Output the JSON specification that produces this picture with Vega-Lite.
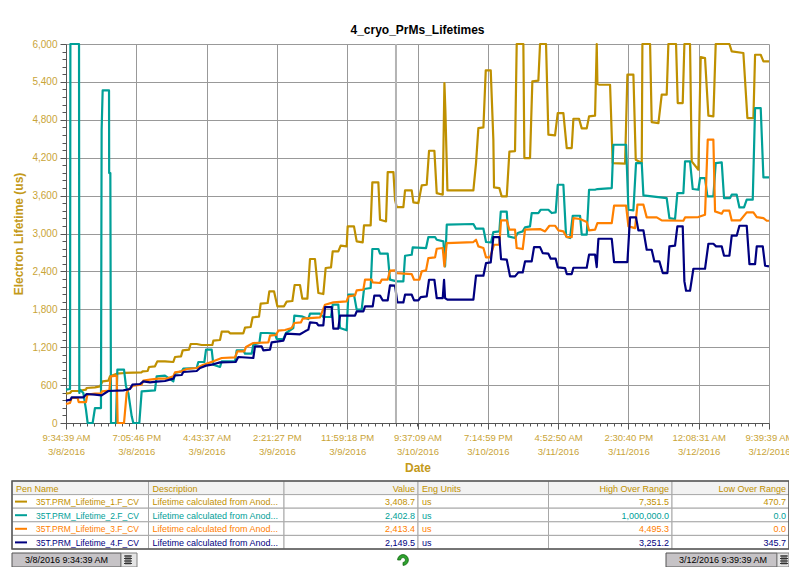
{"$schema":"https://vega.github.io/schema/vega-lite/v6.json","padding":{"left":11,"top":24,"right":0,"bottom":0},"background":"white","spacing":1,"config":{"font":"Liberation Sans","view":{"stroke":null}},
"datasets":{"traces":[
{"pen":"1","h":0,"v":464},{"pen":"1","h":0.55,"v":475},{"pen":"1","h":0.77,"v":507},{"pen":"1","h":1.69,"v":507},{"pen":"1","h":2.73,"v":528},{"pen":"1","h":2.82,"v":554},{"pen":"1","h":3.96,"v":565},{"pen":"1","h":4.65,"v":580},{"pen":"1","h":5.01,"v":660},{"pen":"1","h":5.79,"v":670},{"pen":"1","h":6.01,"v":739},{"pen":"1","h":6.93,"v":781},{"pen":"1","h":8.06,"v":792},{"pen":"1","h":10.34,"v":802},{"pen":"1","h":10.48,"v":818},{"pen":"1","h":11.16,"v":823},{"pen":"1","h":11.34,"v":887},{"pen":"1","h":12.16,"v":897},{"pen":"1","h":12.48,"v":976},{"pen":"1","h":13.53,"v":976},{"pen":"1","h":14.67,"v":966},{"pen":"1","h":14.9,"v":1045},{"pen":"1","h":15.72,"v":1055},{"pen":"1","h":15.95,"v":1150},{"pen":"1","h":16.81,"v":1161},{"pen":"1","h":17.04,"v":1251},{"pen":"1","h":17.86,"v":1251},{"pen":"1","h":18.54,"v":1235},{"pen":"1","h":20,"v":1235},{"pen":"1","h":20.14,"v":1303},{"pen":"1","h":21.05,"v":1314},{"pen":"1","h":21.28,"v":1446},{"pen":"1","h":22.19,"v":1446},{"pen":"1","h":22.42,"v":1420},{"pen":"1","h":24.24,"v":1420},{"pen":"1","h":24.47,"v":1509},{"pen":"1","h":25.24,"v":1520},{"pen":"1","h":25.51,"v":1673},{"pen":"1","h":26.38,"v":1683},{"pen":"1","h":26.61,"v":1889},{"pen":"1","h":27.56,"v":1900},{"pen":"1","h":27.79,"v":2084},{"pen":"1","h":28.43,"v":2084},{"pen":"1","h":28.89,"v":1847},{"pen":"1","h":29.8,"v":1847},{"pen":"1","h":30.16,"v":1921},{"pen":"1","h":30.94,"v":1931},{"pen":"1","h":31.25,"v":2185},{"pen":"1","h":31.98,"v":2185},{"pen":"1","h":32.3,"v":1968},{"pen":"1","h":32.99,"v":1968},{"pen":"1","h":33.35,"v":2596},{"pen":"1","h":34.03,"v":2596},{"pen":"1","h":34.49,"v":2058},{"pen":"1","h":35.17,"v":2042},{"pen":"1","h":35.49,"v":2454},{"pen":"1","h":36.22,"v":2464},{"pen":"1","h":36.45,"v":2718},{"pen":"1","h":37.22,"v":2718},{"pen":"1","h":37.54,"v":2807},{"pen":"1","h":38.36,"v":2796},{"pen":"1","h":38.5,"v":3112},{"pen":"1","h":39.36,"v":3112},{"pen":"1","h":39.73,"v":2875},{"pen":"1","h":40.55,"v":2859},{"pen":"1","h":40.73,"v":3128},{"pen":"1","h":41.64,"v":3128},{"pen":"1","h":41.87,"v":3809},{"pen":"1","h":42.69,"v":3809},{"pen":"1","h":42.92,"v":3218},{"pen":"1","h":43.74,"v":3191},{"pen":"1","h":43.97,"v":3972},{"pen":"1","h":44.75,"v":3973},{"pen":"1","h":44.97,"v":3535},{"pen":"1","h":45.2,"v":3419},{"pen":"1","h":46.11,"v":3419},{"pen":"1","h":46.34,"v":3683},{"pen":"1","h":47.25,"v":3683},{"pen":"1","h":47.48,"v":3492},{"pen":"1","h":48.16,"v":3482},{"pen":"1","h":48.62,"v":3762},{"pen":"1","h":49.3,"v":3772},{"pen":"1","h":49.62,"v":4310},{"pen":"1","h":50.35,"v":4310},{"pen":"1","h":50.67,"v":3640},{"pen":"1","h":51.49,"v":3614},{"pen":"1","h":51.72,"v":5382},{"pen":"1","h":51.85,"v":4960},{"pen":"1","h":52.13,"v":3683},{"pen":"1","h":55.68,"v":3683},{"pen":"1","h":56.04,"v":4115},{"pen":"1","h":56.36,"v":4669},{"pen":"1","h":57.05,"v":4680},{"pen":"1","h":57.37,"v":5582},{"pen":"1","h":58.05,"v":5582},{"pen":"1","h":58.41,"v":4485},{"pen":"1","h":58.5,"v":3730},{"pen":"1","h":59.23,"v":3719},{"pen":"1","h":59.55,"v":3587},{"pen":"1","h":60.24,"v":3587},{"pen":"1","h":60.6,"v":4295},{"pen":"1","h":61.37,"v":4305},{"pen":"1","h":61.6,"v":6000},{"pen":"1","h":62.51,"v":6000},{"pen":"1","h":62.65,"v":4194},{"pen":"1","h":63.42,"v":4194},{"pen":"1","h":63.74,"v":5408},{"pen":"1","h":64.56,"v":5419},{"pen":"1","h":64.79,"v":6000},{"pen":"1","h":65.61,"v":6000},{"pen":"1","h":65.93,"v":4564},{"pen":"1","h":66.84,"v":4553},{"pen":"1","h":67.21,"v":4907},{"pen":"1","h":67.98,"v":4907},{"pen":"1","h":68.44,"v":4353},{"pen":"1","h":69.12,"v":4353},{"pen":"1","h":69.35,"v":4817},{"pen":"1","h":70.12,"v":4817},{"pen":"1","h":70.49,"v":4664},{"pen":"1","h":71.17,"v":4664},{"pen":"1","h":71.49,"v":4854},{"pen":"1","h":72.31,"v":4865},{"pen":"1","h":72.54,"v":6000},{"pen":"1","h":72.63,"v":5366},{"pen":"1","h":72.9,"v":5355},{"pen":"1","h":74.36,"v":5355},{"pen":"1","h":74.72,"v":4115},{"pen":"1","h":76.41,"v":4105},{"pen":"1","h":76.73,"v":5514},{"pen":"1","h":77.55,"v":5514},{"pen":"1","h":77.87,"v":4168},{"pen":"1","h":78.69,"v":4115},{"pen":"1","h":78.78,"v":6000},{"pen":"1","h":79.83,"v":6000},{"pen":"1","h":80.05,"v":4764},{"pen":"1","h":80.97,"v":4748},{"pen":"1","h":81.42,"v":5197},{"pen":"1","h":82.1,"v":5197},{"pen":"1","h":82.33,"v":6000},{"pen":"1","h":83.38,"v":6000},{"pen":"1","h":83.61,"v":5065},{"pen":"1","h":84.29,"v":5065},{"pen":"1","h":84.52,"v":6000},{"pen":"1","h":85.29,"v":6000},{"pen":"1","h":85.52,"v":4142},{"pen":"1","h":86.43,"v":4010},{"pen":"1","h":86.75,"v":5793},{"pen":"1","h":87.34,"v":5777},{"pen":"1","h":87.8,"v":4865},{"pen":"1","h":88.48,"v":4854},{"pen":"1","h":88.8,"v":6000},{"pen":"1","h":90.67,"v":6000},{"pen":"1","h":90.99,"v":5883},{"pen":"1","h":92.58,"v":5857},{"pen":"1","h":93.13,"v":4828},{"pen":"1","h":93.95,"v":4828},{"pen":"1","h":94.18,"v":5830},{"pen":"1","h":94.95,"v":5830},{"pen":"1","h":95.32,"v":5725},{"pen":"1","h":96.08,"v":5725},
{"pen":"2","h":0,"v":528},{"pen":"2","h":0.55,"v":538},{"pen":"2","h":0.6,"v":6000},{"pen":"2","h":1.78,"v":6000},{"pen":"2","h":1.82,"v":475},{"pen":"2","h":1.91,"v":528},{"pen":"2","h":2.37,"v":475},{"pen":"2","h":2.73,"v":211},{"pen":"2","h":2.96,"v":0},{"pen":"2","h":3.64,"v":0},{"pen":"2","h":3.96,"v":237},{"pen":"2","h":4.78,"v":237},{"pen":"2","h":4.87,"v":4643},{"pen":"2","h":5.01,"v":5265},{"pen":"2","h":5.88,"v":5265},{"pen":"2","h":5.9,"v":3957},{"pen":"2","h":6.06,"v":3957},{"pen":"2","h":6.15,"v":0},{"pen":"2","h":6.83,"v":0},{"pen":"2","h":7.02,"v":844},{"pen":"2","h":7.93,"v":844},{"pen":"2","h":8.2,"v":580},{"pen":"2","h":8.52,"v":475},{"pen":"2","h":8.98,"v":106},{"pen":"2","h":9.2,"v":0},{"pen":"2","h":10.02,"v":0},{"pen":"2","h":10.34,"v":501},{"pen":"2","h":12.16,"v":517},{"pen":"2","h":12.39,"v":739},{"pen":"2","h":13.53,"v":749},{"pen":"2","h":14.67,"v":660},{"pen":"2","h":14.9,"v":792},{"pen":"2","h":15.81,"v":818},{"pen":"2","h":16.04,"v":860},{"pen":"2","h":17.86,"v":871},{"pen":"2","h":18.09,"v":966},{"pen":"2","h":18.91,"v":966},{"pen":"2","h":19.14,"v":1161},{"pen":"2","h":19.91,"v":1161},{"pen":"2","h":20.14,"v":923},{"pen":"2","h":21.05,"v":887},{"pen":"2","h":21.28,"v":976},{"pen":"2","h":23.1,"v":976},{"pen":"2","h":23.33,"v":1150},{"pen":"2","h":24.24,"v":1150},{"pen":"2","h":24.47,"v":1098},{"pen":"2","h":25.38,"v":1098},{"pen":"2","h":25.6,"v":1240},{"pen":"2","h":26.43,"v":1266},{"pen":"2","h":26.61,"v":1425},{"pen":"2","h":27.56,"v":1425},{"pen":"2","h":28.57,"v":1414},{"pen":"2","h":28.79,"v":1330},{"pen":"2","h":29.71,"v":1330},{"pen":"2","h":30.07,"v":1425},{"pen":"2","h":31.07,"v":1504},{"pen":"2","h":31.21,"v":1699},{"pen":"2","h":32.21,"v":1689},{"pen":"2","h":33.12,"v":1646},{"pen":"2","h":33.35,"v":1731},{"pen":"2","h":34.72,"v":1731},{"pen":"2","h":35.17,"v":1678},{"pen":"2","h":36.22,"v":1678},{"pen":"2","h":36.45,"v":1873},{"pen":"2","h":37.22,"v":1873},{"pen":"2","h":37.45,"v":1504},{"pen":"2","h":38.36,"v":1467},{"pen":"2","h":38.59,"v":2032},{"pen":"2","h":39.36,"v":2032},{"pen":"2","h":39.73,"v":1794},{"pen":"2","h":40.41,"v":1794},{"pen":"2","h":40.73,"v":2121},{"pen":"2","h":41.64,"v":2137},{"pen":"2","h":41.87,"v":2755},{"pen":"2","h":42.69,"v":2755},{"pen":"2","h":42.92,"v":2681},{"pen":"2","h":43.97,"v":2681},{"pen":"2","h":44.28,"v":2269},{"pen":"2","h":45.2,"v":2242},{"pen":"2","h":46.11,"v":2242},{"pen":"2","h":46.34,"v":2648},{"pen":"2","h":47.25,"v":2664},{"pen":"2","h":47.39,"v":2780},{"pen":"2","h":49.21,"v":2770},{"pen":"2","h":49.53,"v":2944},{"pen":"2","h":50.44,"v":2944},{"pen":"2","h":50.67,"v":2901},{"pen":"2","h":51.58,"v":2875},{"pen":"2","h":51.81,"v":2479},{"pen":"2","h":52.04,"v":3139},{"pen":"2","h":55.68,"v":3150},{"pen":"2","h":56.04,"v":3076},{"pen":"2","h":57.05,"v":3076},{"pen":"2","h":57.41,"v":2865},{"pen":"2","h":58.09,"v":2859},{"pen":"2","h":58.41,"v":3023},{"pen":"2","h":59.23,"v":3033},{"pen":"2","h":59.42,"v":3345},{"pen":"2","h":60.24,"v":3345},{"pen":"2","h":60.46,"v":2954},{"pen":"2","h":61.37,"v":2928},{"pen":"2","h":61.74,"v":3007},{"pen":"2","h":62.42,"v":3033},{"pen":"2","h":62.74,"v":3097},{"pen":"2","h":63.42,"v":3113},{"pen":"2","h":63.65,"v":3324},{"pen":"2","h":64.56,"v":3324},{"pen":"2","h":64.88,"v":3376},{"pen":"2","h":65.93,"v":3376},{"pen":"2","h":66.39,"v":3324},{"pen":"2","h":66.93,"v":3334},{"pen":"2","h":67.21,"v":3772},{"pen":"2","h":67.98,"v":3772},{"pen":"2","h":68.35,"v":2954},{"pen":"2","h":68.89,"v":2928},{"pen":"2","h":69.26,"v":3281},{"pen":"2","h":70.26,"v":3281},{"pen":"2","h":70.49,"v":2981},{"pen":"2","h":71.17,"v":2981},{"pen":"2","h":71.49,"v":3693},{"pen":"2","h":72.31,"v":3693},{"pen":"2","h":72.63,"v":3704},{"pen":"2","h":74.59,"v":3719},{"pen":"2","h":74.81,"v":4405},{"pen":"2","h":76.55,"v":4405},{"pen":"2","h":76.87,"v":3376},{"pen":"2","h":77.55,"v":3366},{"pen":"2","h":77.91,"v":4115},{"pen":"2","h":78.69,"v":4115},{"pen":"2","h":78.92,"v":3603},{"pen":"2","h":82.1,"v":3561},{"pen":"2","h":82.47,"v":3244},{"pen":"2","h":83.24,"v":3229},{"pen":"2","h":83.56,"v":3640},{"pen":"2","h":84.38,"v":3640},{"pen":"2","h":84.61,"v":4142},{"pen":"2","h":85.29,"v":4142},{"pen":"2","h":85.66,"v":3704},{"pen":"2","h":86.43,"v":3693},{"pen":"2","h":86.66,"v":3878},{"pen":"2","h":87.34,"v":3878},{"pen":"2","h":87.66,"v":3587},{"pen":"2","h":88.48,"v":3587},{"pen":"2","h":88.8,"v":4115},{"pen":"2","h":89.62,"v":4126},{"pen":"2","h":89.94,"v":3561},{"pen":"2","h":90.76,"v":3561},{"pen":"2","h":90.99,"v":3614},{"pen":"2","h":91.67,"v":3614},{"pen":"2","h":92.04,"v":3413},{"pen":"2","h":92.67,"v":3413},{"pen":"2","h":93.04,"v":3535},{"pen":"2","h":93.86,"v":3535},{"pen":"2","h":94.18,"v":4986},{"pen":"2","h":94.95,"v":4986},{"pen":"2","h":95.32,"v":3888},{"pen":"2","h":96.08,"v":3888},
{"pen":"3","h":0,"v":301},{"pen":"3","h":0.55,"v":317},{"pen":"3","h":0.77,"v":396},{"pen":"3","h":1.59,"v":396},{"pen":"3","h":1.73,"v":332},{"pen":"3","h":2.73,"v":332},{"pen":"3","h":2.92,"v":449},{"pen":"3","h":3.96,"v":464},{"pen":"3","h":4.78,"v":464},{"pen":"3","h":4.92,"v":501},{"pen":"3","h":5.92,"v":512},{"pen":"3","h":6.11,"v":739},{"pen":"3","h":6.93,"v":749},{"pen":"3","h":7.06,"v":0},{"pen":"3","h":7.93,"v":0},{"pen":"3","h":8.29,"v":475},{"pen":"3","h":8.52,"v":528},{"pen":"3","h":9.2,"v":591},{"pen":"3","h":10.34,"v":607},{"pen":"3","h":10.57,"v":670},{"pen":"3","h":11.48,"v":686},{"pen":"3","h":12.62,"v":702},{"pen":"3","h":13.76,"v":702},{"pen":"3","h":14.67,"v":739},{"pen":"3","h":14.9,"v":802},{"pen":"3","h":15.81,"v":818},{"pen":"3","h":16.49,"v":855},{"pen":"3","h":17.86,"v":871},{"pen":"3","h":18.77,"v":923},{"pen":"3","h":20.14,"v":976},{"pen":"3","h":21.28,"v":1029},{"pen":"3","h":23.1,"v":1040},{"pen":"3","h":23.42,"v":1135},{"pen":"3","h":24.37,"v":1135},{"pen":"3","h":24.6,"v":1203},{"pen":"3","h":25.6,"v":1266},{"pen":"3","h":27.66,"v":1277},{"pen":"3","h":27.88,"v":1383},{"pen":"3","h":28.7,"v":1393},{"pen":"3","h":29.02,"v":1462},{"pen":"3","h":29.93,"v":1472},{"pen":"3","h":30.84,"v":1504},{"pen":"3","h":31.21,"v":1583},{"pen":"3","h":32.12,"v":1594},{"pen":"3","h":32.35,"v":1652},{"pen":"3","h":34.72,"v":1673},{"pen":"3","h":35.4,"v":1873},{"pen":"3","h":36.54,"v":1910},{"pen":"3","h":38.36,"v":1926},{"pen":"3","h":38.59,"v":2005},{"pen":"3","h":39.5,"v":2021},{"pen":"3","h":39.73,"v":2100},{"pen":"3","h":40.64,"v":2111},{"pen":"3","h":40.87,"v":2269},{"pen":"3","h":41.78,"v":2269},{"pen":"3","h":41.92,"v":2227},{"pen":"3","h":42.92,"v":2216},{"pen":"3","h":43.15,"v":2269},{"pen":"3","h":43.97,"v":2269},{"pen":"3","h":44.28,"v":2412},{"pen":"3","h":44.97,"v":2417},{"pen":"3","h":45.2,"v":2374},{"pen":"3","h":47.25,"v":2358},{"pen":"3","h":47.57,"v":2268},{"pen":"3","h":48.3,"v":2268},{"pen":"3","h":48.62,"v":2400},{"pen":"3","h":49.21,"v":2416},{"pen":"3","h":49.53,"v":2611},{"pen":"3","h":50.44,"v":2622},{"pen":"3","h":50.67,"v":2759},{"pen":"3","h":51.49,"v":2770},{"pen":"3","h":51.72,"v":2479},{"pen":"3","h":52.04,"v":2849},{"pen":"3","h":55.68,"v":2865},{"pen":"3","h":56.04,"v":2901},{"pen":"3","h":56.36,"v":2796},{"pen":"3","h":57.05,"v":2770},{"pen":"3","h":57.41,"v":2622},{"pen":"3","h":57.96,"v":2622},{"pen":"3","h":58.5,"v":2822},{"pen":"3","h":59.23,"v":2822},{"pen":"3","h":59.46,"v":3207},{"pen":"3","h":60.24,"v":3207},{"pen":"3","h":60.6,"v":3060},{"pen":"3","h":61.37,"v":3060},{"pen":"3","h":61.6,"v":2770},{"pen":"3","h":62.42,"v":2754},{"pen":"3","h":62.74,"v":3060},{"pen":"3","h":64.79,"v":3070},{"pen":"3","h":65.48,"v":3033},{"pen":"3","h":66.07,"v":3123},{"pen":"3","h":66.84,"v":3123},{"pen":"3","h":67.3,"v":3049},{"pen":"3","h":67.98,"v":3033},{"pen":"3","h":68.44,"v":2944},{"pen":"3","h":69.12,"v":2944},{"pen":"3","h":69.35,"v":3244},{"pen":"3","h":70.26,"v":3229},{"pen":"3","h":71.17,"v":3181},{"pen":"3","h":71.49,"v":3049},{"pen":"3","h":72.31,"v":3060},{"pen":"3","h":72.63,"v":3165},{"pen":"3","h":74.59,"v":3165},{"pen":"3","h":74.91,"v":3440},{"pen":"3","h":76.55,"v":3440},{"pen":"3","h":76.87,"v":3113},{"pen":"3","h":77.78,"v":3086},{"pen":"3","h":78.1,"v":3456},{"pen":"3","h":78.92,"v":3456},{"pen":"3","h":79.37,"v":3255},{"pen":"3","h":80.74,"v":3255},{"pen":"3","h":81.42,"v":3207},{"pen":"3","h":84.38,"v":3202},{"pen":"3","h":84.61,"v":3255},{"pen":"3","h":86.43,"v":3260},{"pen":"3","h":87.34,"v":3297},{"pen":"3","h":87.71,"v":4485},{"pen":"3","h":88.48,"v":4485},{"pen":"3","h":88.71,"v":3350},{"pen":"3","h":89.62,"v":3313},{"pen":"3","h":89.85,"v":3361},{"pen":"3","h":90.67,"v":3361},{"pen":"3","h":90.99,"v":3207},{"pen":"3","h":92.13,"v":3207},{"pen":"3","h":93.04,"v":3334},{"pen":"3","h":93.95,"v":3334},{"pen":"3","h":94.41,"v":3260},{"pen":"3","h":95.32,"v":3244},{"pen":"3","h":95.77,"v":3202},{"pen":"3","h":96.08,"v":3202},
{"pen":"4","h":0,"v":354},{"pen":"4","h":0.64,"v":369},{"pen":"4","h":0.77,"v":406},{"pen":"4","h":2.37,"v":406},{"pen":"4","h":2.82,"v":459},{"pen":"4","h":3.96,"v":449},{"pen":"4","h":4.87,"v":438},{"pen":"4","h":5.79,"v":507},{"pen":"4","h":7.84,"v":517},{"pen":"4","h":8.75,"v":538},{"pen":"4","h":9.07,"v":607},{"pen":"4","h":10.11,"v":617},{"pen":"4","h":10.57,"v":660},{"pen":"4","h":11.48,"v":644},{"pen":"4","h":12.39,"v":654},{"pen":"4","h":13.53,"v":665},{"pen":"4","h":14.67,"v":702},{"pen":"4","h":14.9,"v":755},{"pen":"4","h":15.81,"v":760},{"pen":"4","h":16.04,"v":807},{"pen":"4","h":17.86,"v":823},{"pen":"4","h":18.32,"v":871},{"pen":"4","h":19.14,"v":908},{"pen":"4","h":20.14,"v":929},{"pen":"4","h":21.05,"v":960},{"pen":"4","h":23.19,"v":966},{"pen":"4","h":23.55,"v":1045},{"pen":"4","h":25.6,"v":1029},{"pen":"4","h":25.83,"v":1214},{"pen":"4","h":26.74,"v":1214},{"pen":"4","h":26.97,"v":1150},{"pen":"4","h":27.88,"v":1161},{"pen":"4","h":28.11,"v":1277},{"pen":"4","h":29.71,"v":1303},{"pen":"4","h":30.07,"v":1414},{"pen":"4","h":31.98,"v":1404},{"pen":"4","h":32.67,"v":1451},{"pen":"4","h":33.12,"v":1478},{"pen":"4","h":33.35,"v":1594},{"pen":"4","h":34.26,"v":1583},{"pen":"4","h":34.49,"v":1546},{"pen":"4","h":35.17,"v":1546},{"pen":"4","h":35.4,"v":1836},{"pen":"4","h":36.31,"v":1836},{"pen":"4","h":36.54,"v":1493},{"pen":"4","h":37.22,"v":1493},{"pen":"4","h":37.45,"v":1699},{"pen":"4","h":39.5,"v":1699},{"pen":"4","h":39.73,"v":1768},{"pen":"4","h":40.64,"v":1768},{"pen":"4","h":40.87,"v":1847},{"pen":"4","h":41.92,"v":1847},{"pen":"4","h":42.14,"v":2016},{"pen":"4","h":42.92,"v":2016},{"pen":"4","h":43.28,"v":1942},{"pen":"4","h":43.97,"v":1942},{"pen":"4","h":44.28,"v":2179},{"pen":"4","h":44.97,"v":2175},{"pen":"4","h":45.29,"v":1909},{"pen":"4","h":46.11,"v":1909},{"pen":"4","h":46.34,"v":2031},{"pen":"4","h":47.25,"v":2031},{"pen":"4","h":47.57,"v":1941},{"pen":"4","h":48.16,"v":1941},{"pen":"4","h":48.48,"v":1994},{"pen":"4","h":49.3,"v":2004},{"pen":"4","h":49.62,"v":2268},{"pen":"4","h":50.35,"v":2268},{"pen":"4","h":50.67,"v":1978},{"pen":"4","h":51.49,"v":1978},{"pen":"4","h":51.67,"v":2268},{"pen":"4","h":51.81,"v":1978},{"pen":"4","h":52.13,"v":1952},{"pen":"4","h":55.68,"v":1952},{"pen":"4","h":56.04,"v":2332},{"pen":"4","h":57.05,"v":2332},{"pen":"4","h":57.41,"v":2532},{"pen":"4","h":58.05,"v":2543},{"pen":"4","h":58.41,"v":2944},{"pen":"4","h":59.23,"v":2944},{"pen":"4","h":59.46,"v":2595},{"pen":"4","h":60.24,"v":2585},{"pen":"4","h":60.69,"v":2321},{"pen":"4","h":61.37,"v":2321},{"pen":"4","h":61.83,"v":2384},{"pen":"4","h":62.42,"v":2384},{"pen":"4","h":62.74,"v":2558},{"pen":"4","h":63.65,"v":2558},{"pen":"4","h":63.97,"v":2785},{"pen":"4","h":64.79,"v":2785},{"pen":"4","h":65.16,"v":2690},{"pen":"4","h":65.93,"v":2680},{"pen":"4","h":66.25,"v":2601},{"pen":"4","h":66.93,"v":2601},{"pen":"4","h":67.21,"v":2463},{"pen":"4","h":68.21,"v":2453},{"pen":"4","h":68.44,"v":2358},{"pen":"4","h":69.12,"v":2358},{"pen":"4","h":69.35,"v":2458},{"pen":"4","h":71.17,"v":2458},{"pen":"4","h":71.49,"v":2664},{"pen":"4","h":72.31,"v":2664},{"pen":"4","h":72.54,"v":2469},{"pen":"4","h":72.63,"v":2664},{"pen":"4","h":72.77,"v":2917},{"pen":"4","h":74.59,"v":2917},{"pen":"4","h":74.91,"v":2548},{"pen":"4","h":76.73,"v":2548},{"pen":"4","h":77.09,"v":3255},{"pen":"4","h":77.91,"v":3255},{"pen":"4","h":78.23,"v":3049},{"pen":"4","h":78.92,"v":3049},{"pen":"4","h":79.37,"v":2743},{"pen":"4","h":80.05,"v":2743},{"pen":"4","h":80.42,"v":2558},{"pen":"4","h":81.1,"v":2558},{"pen":"4","h":81.56,"v":2374},{"pen":"4","h":82.2,"v":2374},{"pen":"4","h":82.47,"v":2796},{"pen":"4","h":83.24,"v":2807},{"pen":"4","h":83.56,"v":3113},{"pen":"4","h":84.29,"v":3113},{"pen":"4","h":84.52,"v":2242},{"pen":"4","h":84.75,"v":2094},{"pen":"4","h":85.29,"v":2094},{"pen":"4","h":85.75,"v":2442},{"pen":"4","h":87.34,"v":2442},{"pen":"4","h":87.8,"v":2838},{"pen":"4","h":88.48,"v":2838},{"pen":"4","h":88.85,"v":2796},{"pen":"4","h":89.62,"v":2796},{"pen":"4","h":89.94,"v":2648},{"pen":"4","h":90.67,"v":2648},{"pen":"4","h":90.99,"v":2965},{"pen":"4","h":91.67,"v":2965},{"pen":"4","h":92.04,"v":3123},{"pen":"4","h":93.04,"v":3123},{"pen":"4","h":93.41,"v":2516},{"pen":"4","h":94.18,"v":2516},{"pen":"4","h":94.41,"v":2796},{"pen":"4","h":95.23,"v":2796},{"pen":"4","h":95.55,"v":2490},{"pen":"4","h":96.08,"v":2479}
],
"table":[
{"row":0,"rowNext":1,"col":0,"colNext":1,"pen":"h","kind":"left","text":"Pen Name"},{"row":0,"rowNext":1,"col":1,"colNext":2,"pen":"h","kind":"left","text":"Description"},{"row":0,"rowNext":1,"col":2,"colNext":3,"pen":"h","kind":"right","text":"Value"},{"row":0,"rowNext":1,"col":3,"colNext":4,"pen":"h","kind":"left","text":"Eng Units"},{"row":0,"rowNext":1,"col":4,"colNext":5,"pen":"h","kind":"right","text":"High Over Range"},{"row":0,"rowNext":1,"col":5,"colNext":6,"pen":"h","kind":"right","text":"Low Over Range"},
{"row":1,"rowNext":2,"col":0,"colNext":1,"pen":"1","kind":"name","text":"35T.PRM_Lifetime_1.F_CV"},{"row":1,"rowNext":2,"col":1,"colNext":2,"pen":"1","kind":"left","text":"Lifetime calculated from Anod..."},{"row":1,"rowNext":2,"col":2,"colNext":3,"pen":"1","kind":"right","text":"3,408.7"},{"row":1,"rowNext":2,"col":3,"colNext":4,"pen":"1","kind":"left","text":"us"},{"row":1,"rowNext":2,"col":4,"colNext":5,"pen":"1","kind":"right","text":"7,351.5"},{"row":1,"rowNext":2,"col":5,"colNext":6,"pen":"1","kind":"right","text":"470.7"},
{"row":2,"rowNext":3,"col":0,"colNext":1,"pen":"2","kind":"name","text":"35T.PRM_Lifetime_2.F_CV"},{"row":2,"rowNext":3,"col":1,"colNext":2,"pen":"2","kind":"left","text":"Lifetime calculated from Anod..."},{"row":2,"rowNext":3,"col":2,"colNext":3,"pen":"2","kind":"right","text":"2,402.8"},{"row":2,"rowNext":3,"col":3,"colNext":4,"pen":"2","kind":"left","text":"us"},{"row":2,"rowNext":3,"col":4,"colNext":5,"pen":"2","kind":"right","text":"1,000,000.0"},{"row":2,"rowNext":3,"col":5,"colNext":6,"pen":"2","kind":"right","text":"0.0"},
{"row":3,"rowNext":4,"col":0,"colNext":1,"pen":"3","kind":"name","text":"35T.PRM_Lifetime_3.F_CV"},{"row":3,"rowNext":4,"col":1,"colNext":2,"pen":"3","kind":"left","text":"Lifetime calculated from Anod..."},{"row":3,"rowNext":4,"col":2,"colNext":3,"pen":"3","kind":"right","text":"2,413.4"},{"row":3,"rowNext":4,"col":3,"colNext":4,"pen":"3","kind":"left","text":"us"},{"row":3,"rowNext":4,"col":4,"colNext":5,"pen":"3","kind":"right","text":"4,495.3"},{"row":3,"rowNext":4,"col":5,"colNext":6,"pen":"3","kind":"right","text":"0.0"},
{"row":4,"rowNext":5,"col":0,"colNext":1,"pen":"4","kind":"name","text":"35T.PRM_Lifetime_4.F_CV"},{"row":4,"rowNext":5,"col":1,"colNext":2,"pen":"4","kind":"left","text":"Lifetime calculated from Anod..."},{"row":4,"rowNext":5,"col":2,"colNext":3,"pen":"4","kind":"right","text":"2,149.5"},{"row":4,"rowNext":5,"col":3,"colNext":4,"pen":"4","kind":"left","text":"us"},{"row":4,"rowNext":5,"col":4,"colNext":5,"pen":"4","kind":"right","text":"3,251.2"},{"row":4,"rowNext":5,"col":5,"colNext":6,"pen":"4","kind":"right","text":"345.7"}
]},
"vconcat":[
{"title":{"text":"4_cryo_PrMs_Lifetimes","fontSize":12,"fontWeight":"bold","color":"#000000","font":"Liberation Sans","offset":2,"anchor":"middle"},
"width":703,"height":379,
"resolve":{"axis":{"x":"independent","y":"independent"}},
"layer":[
{"data":{"name":"traces"},"mark":{"type":"line","strokeWidth":2.2,"interpolate":"linear","strokeJoin":"round"},
"encoding":{
"x":{"field":"h","type":"quantitative","scale":{"domain":[0,96.0833],"nice":false,"zero":false},
"axis":{"orient":"bottom","title":"Date","titleColor":"#c49a1a","titleFont":"Liberation Sans","titleFontSize":12,"titleFontWeight":"bold","titlePadding":7,"values":[0,9.6083,19.2167,28.825,38.4333,48.0417,57.65,67.2583,76.8667,86.475,96.0833],"labelExpr":"split(['9:34:39 AM|3/8/2016','7:05:46 PM|3/8/2016','4:43:37 AM|3/9/2016','2:21:27 PM|3/9/2016','11:59:18 PM|3/9/2016','9:37:09 AM|3/10/2016','7:14:59 PM|3/10/2016','4:52:50 AM|3/11/2016','2:30:40 PM|3/11/2016','12:08:31 AM|3/12/2016','9:39:39 AM|3/12/2016'][round(datum.value/9.60833)],'|')","labelColor":"#c9a437","labelFont":"Liberation Sans","labelFontSize":9.5,"labelLineHeight":14,"labelOverlap":false,"labelBound":false,"labelFlush":false,"labelPadding":3,"tickColor":"#555555","tickSize":6,"domainColor":"#555555","grid":true,"gridColor":"#999999","gridWidth":1}},
"y":{"field":"v","type":"quantitative","scale":{"domain":[0,6000],"nice":false},
"axis":{"orient":"left","title":"Electron Lifetime (us)","titleColor":"#c49a1a","titleFont":"Liberation Sans","titleFontSize":12,"titleFontWeight":"bold","titlePadding":6,"values":[0,600,1200,1800,2400,3000,3600,4200,4800,5400,6000],"labelExpr":"format(datum.value,',.0f')","labelColor":"#c9a437","labelFont":"Liberation Sans","labelFontSize":10,"labelPadding":3,"tickColor":"#555555","tickSize":6,"domainColor":"#555555","grid":true,"gridColor":"#999999","gridWidth":1}},
"color":{"field":"pen","type":"nominal","legend":null,"scale":{"domain":["1","2","3","4"],"range":["#bf9000","#00a098","#ff8000","#000080"]}}}},
{"data":{"values":[{"h":45.1}]},"mark":{"type":"rule","stroke":"#b4b4b4","strokeWidth":2},"encoding":{"x":{"field":"h","type":"quantitative","axis":null}}},
{"data":{"values":[{"h":0,"v":0}]},"mark":{"type":"point","opacity":0},
"encoding":{
"x":{"field":"h","type":"quantitative","axis":{"orient":"bottom","title":null,"labels":false,"grid":false,"domain":false,"tickColor":"#555555","tickSize":3,"values":[0.96,1.92,2.88,3.84,4.8,5.76,6.73,7.69,8.65,9.61,10.57,11.53,12.49,13.45,14.41,15.37,16.33,17.29,18.26,19.22,20.18,21.14,22.1,23.06,24.02,24.98,25.94,26.9,27.86,28.82,29.79,30.75,31.71,32.67,33.63,34.59,35.55,36.51,37.47,38.43,39.39,40.35,41.32,42.28,43.24,44.2,45.16,46.12,47.08,48.04,49,49.96,50.92,51.88,52.85,53.81,54.77,55.73,56.69,57.65,58.61,59.57,60.53,61.49,62.45,63.41,64.37,65.34,66.3,67.26,68.22,69.18,70.14,71.1,72.06,73.02,73.98,74.94,75.9,76.87,77.83,78.79,79.75,80.71,81.67,82.63,83.59,84.55,85.51,86.47,87.43,88.4,89.36,90.32,91.28,92.24,93.2,94.16,95.12]}},
"y":{"field":"v","type":"quantitative","axis":{"orient":"left","title":null,"labels":false,"grid":false,"domain":false,"tickColor":"#555555","tickSize":4,"values":[120,240,360,480,720,840,960,1080,1320,1440,1560,1680,1920,2040,2160,2280,2520,2640,2760,2880,3120,3240,3360,3480,3720,3840,3960,4080,4320,4440,4560,4680,4920,5040,5160,5280,5520,5640,5760,5880]}}}}
]},
{"data":{"name":"table"},"width":703,"height":76,
"encoding":{
"x":{"field":"col","type":"quantitative","axis":null,"scale":{"domain":[0,1,2,3,4,5,6],"range":[-54,82.5,218,352,482.5,606,723],"nice":false,"zero":false}},
"y":{"field":"row","type":"quantitative","axis":null,"scale":{"domain":[0,5],"range":[6,74],"nice":false,"zero":false}}},
"layer":[
{"mark":{"type":"rect","stroke":"#a8a8a8","strokeWidth":1},"encoding":{"x2":{"field":"colNext"},"y2":{"field":"rowNext"},"fill":{"field":"pen","type":"nominal","legend":null,"scale":{"domain":["h","1","2","3","4"],"range":["#f2f2f2","#ffffff","#ffffff","#ffffff","#ffffff"]}}}},
{"data":{"values":[{"col":0,"colNext":6,"row":0,"rowNext":5}]},"mark":{"type":"rect","fillOpacity":0,"stroke":"#555555","strokeWidth":1.5},"encoding":{"x2":{"field":"colNext"},"y2":{"field":"rowNext"}}},
{"transform":[{"filter":"datum.kind=='name'"}],"mark":{"type":"point","shape":"M-1,0L1,0","size":144,"filled":false,"strokeWidth":2,"xOffset":9,"yOffset":7,"opacity":1},"encoding":{"stroke":{"field":"pen","type":"nominal","legend":null,"scale":{"domain":["h","1","2","3","4"],"range":["#000000","#bf9000","#00a098","#ff8000","#000080"]}}}},
{"transform":[{"filter":"datum.kind=='name'"}],"mark":{"type":"text","align":"left","baseline":"middle","dx":24,"dy":7.5,"fontSize":8.5,"font":"Liberation Sans"},"encoding":{"text":{"field":"text"},"color":{"field":"pen","type":"nominal","legend":null,"scale":{"domain":["h","1","2","3","4"],"range":["#303030","#c9a437","#25aaa3","#ff9433","#1c1c8c"]}}}},
{"transform":[{"filter":"datum.kind=='left'"}],"mark":{"type":"text","align":"left","baseline":"middle","dx":4,"dy":7.5,"fontSize":9,"font":"Liberation Sans"},"encoding":{"text":{"field":"text"},"color":{"field":"pen","type":"nominal","legend":null,"scale":{"domain":["h","1","2","3","4"],"range":["#303030","#c9a437","#25aaa3","#ff9433","#1c1c8c"]}}}},
{"transform":[{"filter":"datum.kind=='right'"}],"mark":{"type":"text","align":"right","baseline":"middle","dx":-3,"dy":7.5,"fontSize":9,"font":"Liberation Sans"},"encoding":{"x":{"field":"colNext","type":"quantitative"},"text":{"field":"text"},"color":{"field":"pen","type":"nominal","legend":null,"scale":{"domain":["h","1","2","3","4"],"range":["#303030","#c9a437","#25aaa3","#ff9433","#1c1c8c"]}}}}
]},
{"width":703,"height":14,
"data":{"values":[{"slot":0,"slotNext":1,"kind":"date","text":"3/8/2016 9:34:39 AM"},{"slot":1,"slotNext":2,"kind":"icon","text":""},{"slot":4,"slotNext":5,"kind":"date","text":"3/12/2016 9:39:39 AM"},{"slot":5,"slotNext":6,"kind":"icon","text":""},{"slot":3,"slotNext":3,"kind":"refresh","text":""}]},
"encoding":{"x":{"field":"slot","type":"quantitative","axis":null,"scale":{"domain":[0,1,2,3,4,5,6],"range":[-54,55,71,337,600,711,723],"nice":false,"zero":false}}},
"layer":[
{"transform":[{"filter":"datum.kind=='date'"}],"mark":{"type":"rect","fill":"#c6c3c6","stroke":"#555555","strokeWidth":1},"encoding":{"x2":{"field":"slotNext"}}},
{"transform":[{"filter":"datum.kind=='icon'"}],"mark":{"type":"rect","fill":"#e4e4e4","stroke":"#808080","strokeWidth":1},"encoding":{"x2":{"field":"slotNext"}}},
{"transform":[{"filter":"datum.kind=='icon'"}],"mark":{"type":"point","shape":"M-0.8,-0.8L0.8,-0.8M-0.8,-0.3L0.8,-0.3M-0.8,0.2L0.8,0.2M-0.8,0.7L0.8,0.7M-0.4,-1L-0.4,0.9M0,-1L0,0.9M0.4,-1L0.4,0.9","size":100,"filled":false,"stroke":"#333333","strokeWidth":1,"xOffset":7,"opacity":1}},
{"transform":[{"filter":"datum.kind=='refresh'"}],"mark":{"type":"point","shape":"M-0.9,0A0.9,0.9,0,1,1,0,0.9L0,0.4A0.4,0.4,0,1,0,-0.4,0Z","size":144,"filled":true,"fill":"#2fa32f","stroke":"#0b5f0b","strokeWidth":0.7,"opacity":1}},
{"transform":[{"filter":"datum.kind=='date'"}],"mark":{"type":"text","align":"left","baseline":"middle","dx":13,"fontSize":9,"font":"Liberation Sans","color":"#000000"},"encoding":{"text":{"field":"text"}}}
]}
]}
